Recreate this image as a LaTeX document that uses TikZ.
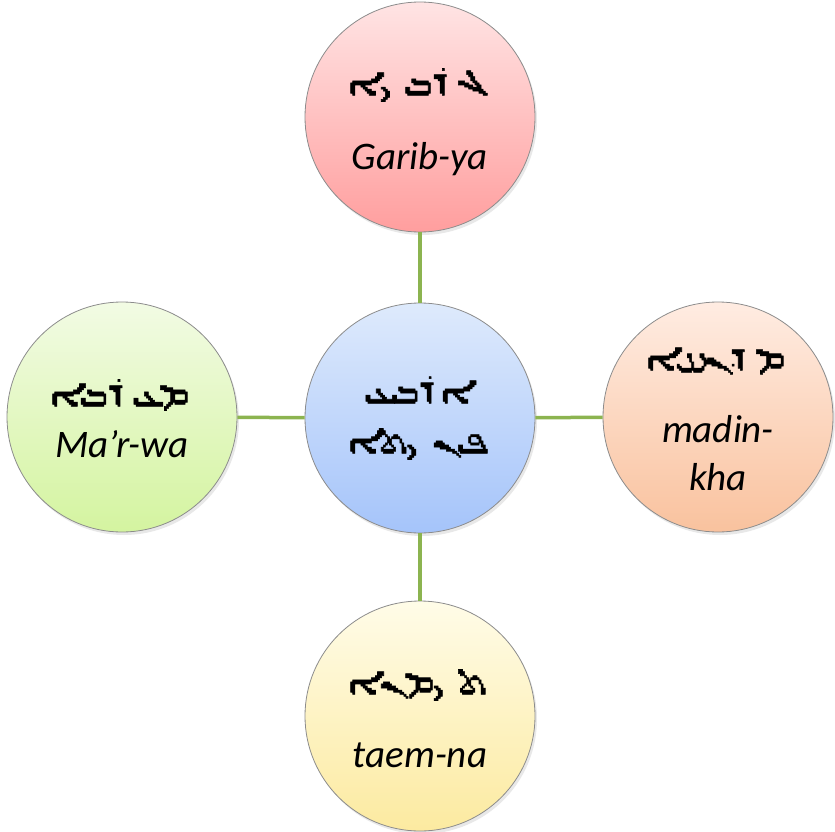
\documentclass[tikz,border=0pt]{standalone}
\usepackage{fontspec}
\usetikzlibrary{shadows}
\TeXXeTstate=1
\setmainfont{Carlito}
\IfFontExistsTF{Unifont}
  {\newfontfamily\syr[FakeBold=1.8, LetterSpace=-20]{Unifont}}
  {\newfontfamily\syr{DejaVu Sans}}
\definecolor{linegreen}{RGB}{140,180,80}
\definecolor{pinkT}{RGB}{255,228,228}\definecolor{pinkB}{RGB}{255,158,158}
\definecolor{blueT}{RGB}{222,234,252}\definecolor{blueB}{RGB}{165,196,250}
\definecolor{greenT}{RGB}{242,251,228}\definecolor{greenB}{RGB}{212,244,160}
\definecolor{orangeT}{RGB}{255,236,226}\definecolor{orangeB}{RGB}{249,194,158}
\definecolor{yellowT}{RGB}{255,252,232}\definecolor{yellowB}{RGB}{252,234,160}
\definecolor{rim}{RGB}{140,140,140}
\tikzset{
  ball/.style={circle, minimum size=230pt, inner sep=0pt, draw=rim, line width=0.8pt,
    drop shadow={opacity=0.18, shadow xshift=2pt, shadow yshift=-3pt}},
  link/.style={draw=linegreen, line width=3.5pt},
  lat/.style={font=\fontsize{39}{44}\selectfont\itshape, inner sep=0pt},
  syrtxt/.style={font=\fontsize{33}{38}\selectfont\syr, inner sep=0pt}
}
\begin{document}
\begin{tikzpicture}[x=1pt,y=-1pt]
\useasboundingbox (0,0) rectangle (835,832);
\node[ball, top color=pinkT, bottom color=pinkB] (north) at (420,117) {};
\node[ball, top color=blueT, bottom color=blueB] (mid) at (420,418) {};
\node[ball, top color=greenT, bottom color=greenB] (west) at (122,417) {};
\node[ball, top color=orangeT, bottom color=orangeB] (east) at (718,417) {};
\node[ball, top color=yellowT, bottom color=yellowB] (south) at (420,716) {};
\draw[link] (north) -- (mid);
\draw[link] (west) -- (mid);
\draw[link] (east) -- (mid);
\draw[link] (south) -- (mid);
% texts
\node[syrtxt] (nS) at (420,85) {\beginR ܓܪܒܝܐ\endR};
\node[lat] (nL) at (420,159) {Garib-ya};
\node[syrtxt] (mS1) at (420,391) {\beginR ܐܪܒܥ\endR};
\node[syrtxt] (mS2) at (420,444) {\beginR ܦܢܝܬܐ\endR};
\node[syrtxt] (wS) at (122,395) {\beginR ܡܥܪܒܐ\endR};
\node[lat] (wL) at (122,444) {Ma’r-wa};
\node[syrtxt] (eS) at (718,361) {\beginR ܡܕܢܚܐ\endR};
\node[lat] (eL1) at (718,429) {madin-};
\node[lat] (eL2) at (718,477) {kha};
\node[syrtxt] (sS) at (420,685) {\beginR ܬܝܡܢܐ\endR};
\node[lat] (sL) at (420,755) {taem-na};
\end{tikzpicture}
\end{document}
